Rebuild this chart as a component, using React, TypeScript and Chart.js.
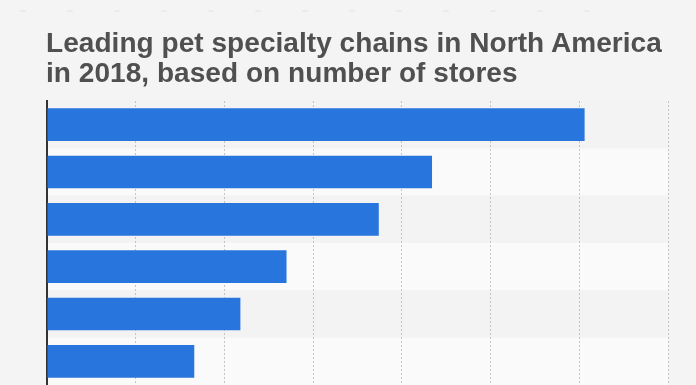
import React, { useEffect, useRef } from "react";
import { Chart, registerables } from "chart.js";

Chart.register(...registerables);

const categories = ["Chain 1", "Chain 2", "Chain 3", "Chain 4", "Chain 5", "Chain 6"];
const storeCounts = [1515, 1085, 935, 675, 545, 415];
const axisMax = 1750;
const axisStep = 250;
const titleLines = ["Leading pet specialty chains in North America", "in 2018, based on number of stores"];

const W = 696;
const H = 385;

const bandsPlugin = {
  id: "bands",
  beforeDraw(chart: any) {
    const { ctx, chartArea, scales } = chart;
    const y = scales.y;
    ctx.save();
    ctx.fillStyle = "#f4f4f4";
    ctx.fillRect(0, 0, chart.width, chart.height);
    // faint dashed line at top
    ctx.strokeStyle = "#e2e2e2";
    ctx.lineWidth = 1;
    ctx.setLineDash([6, 41]);
    ctx.beginPath();
    ctx.moveTo(20, 11);
    ctx.lineTo(612, 11);
    ctx.stroke();
    ctx.setLineDash([]);
    const n = chart.data.labels.length;
    for (let i = 0; i < n; i++) {
      const top = i === 0 ? chartArea.top : (y.getPixelForValue(i - 1) + y.getPixelForValue(i)) / 2;
      const bottom = i === n - 1 ? chartArea.bottom : (y.getPixelForValue(i) + y.getPixelForValue(i + 1)) / 2;
      ctx.fillStyle = i % 2 === 0 ? "#f3f3f3" : "#fafafa";
      ctx.fillRect(chartArea.left, top, chartArea.right - chartArea.left, bottom - top);
    }
    ctx.restore();
  },
};

export default function App() {
  const ref = useRef<HTMLCanvasElement | null>(null);
  useEffect(() => {
    document.body.style.margin = "0";
    document.body.style.background = "#f4f4f4";
    const chart = new Chart(ref.current!, {
      type: "bar",
      data: {
        labels: categories,
        datasets: [
          {
            data: storeCounts,
            backgroundColor: "#2876dd",
            borderWidth: 0,
            categoryPercentage: 1,
            barPercentage: 0.69,
          },
        ],
      },
      options: {
        indexAxis: "y",
        responsive: false,
        animation: false,
        layout: { padding: { left: 47, right: 28, top: 101, bottom: 0 } },
        plugins: { legend: { display: false }, tooltip: { enabled: false }, title: { display: false } },
        scales: {
          x: {
            min: 0,
            max: axisMax,
            ticks: { display: false, stepSize: axisStep },
            grid: { display: true, color: "#c4c4c4", lineWidth: 1, drawTicks: false },
            border: { display: false, dash: [2, 2] },
          },
          y: {
            ticks: { display: false },
            grid: { display: false, drawTicks: false },
            border: { display: true, color: "#333333", width: 2 },
          },
        },
      },
      plugins: [bandsPlugin],
    });
    return () => chart.destroy();
  }, []);

  return (
    <div style={{ position: "fixed", left: 0, top: 0, width: W, height: H, background: "#f4f4f4", overflow: "hidden" }}>
      <canvas ref={ref} width={W} height={H} style={{ position: "absolute", left: 0, top: 0, width: W, height: H }} />
      <div
        style={{
          position: "absolute",
          left: 46,
          top: 28,
          fontFamily: "'Liberation Sans', Arial, Helvetica, sans-serif",
          fontWeight: 700,
          fontSize: 28,
          lineHeight: "30px",
          letterSpacing: "0.05px",
          color: "#505050",
          whiteSpace: "nowrap",
        }}
      >
        {titleLines.map((t, i) => (
          <div key={i}>{t}</div>
        ))}
      </div>
    </div>
  );
}
